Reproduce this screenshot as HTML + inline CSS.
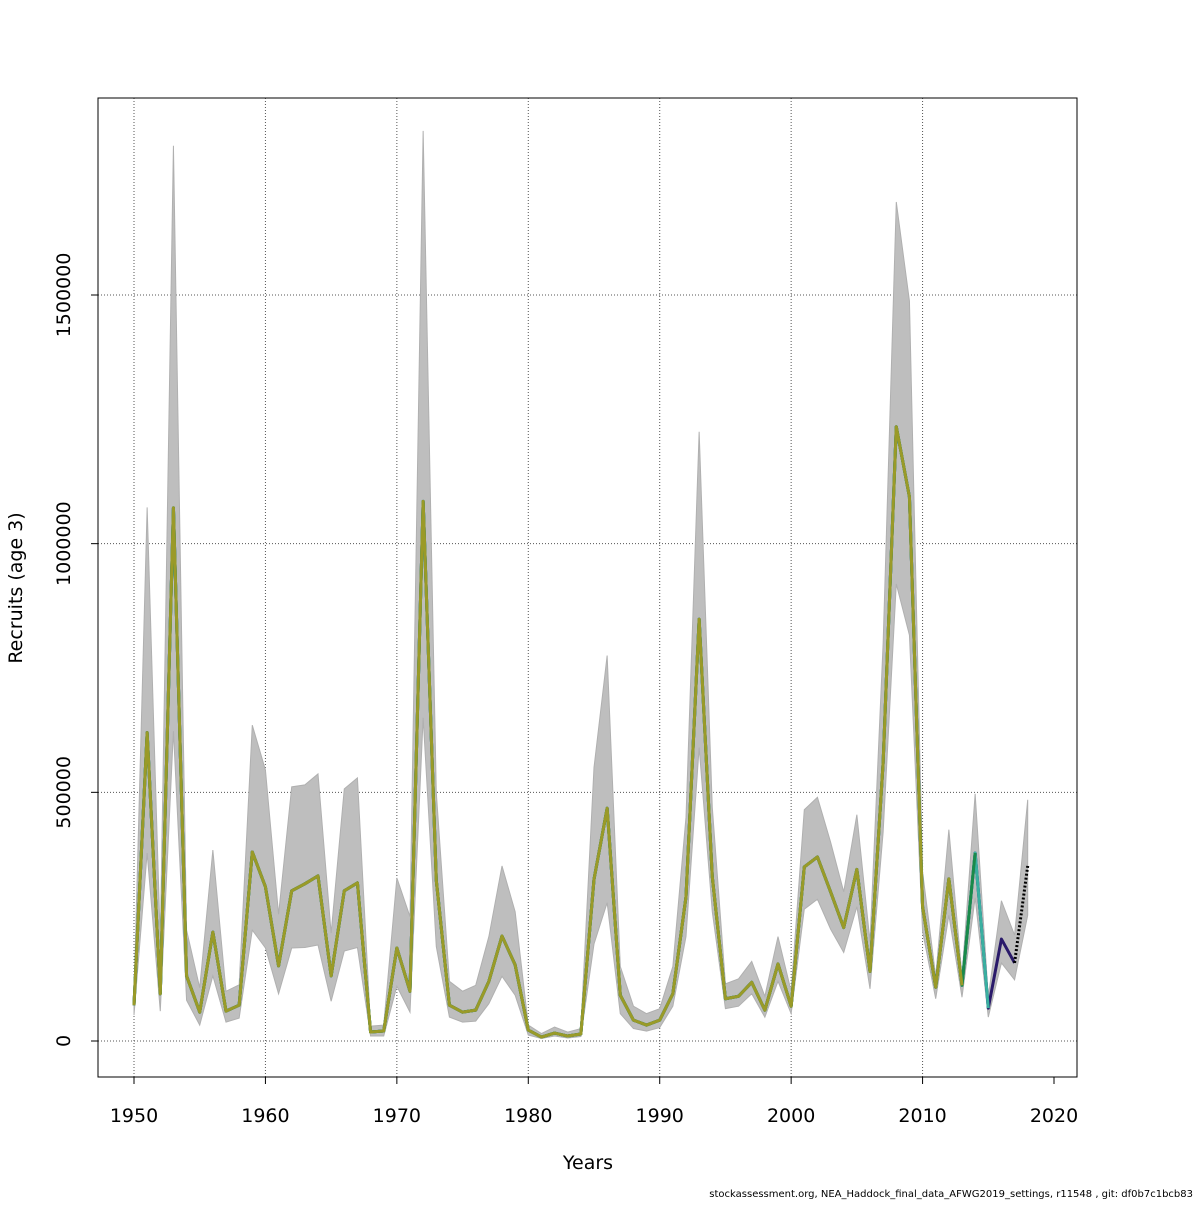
<!DOCTYPE html>
<html><head><meta charset="utf-8"><style>
body{margin:0;background:#fff;}
svg text{font-family:"DejaVu Sans","Liberation Sans",sans-serif;}
</style></head><body>
<svg id="chart" width="1200" height="1200" viewBox="0 0 1200 1200" xmlns="http://www.w3.org/2000/svg">
<rect width="1200" height="1200" fill="#fff"/>
<g id="grid"></g>
<g id="band"></g>
<g id="lines"></g>
<g id="axes"></g>
<text x="588" y="1169" font-size="19" text-anchor="middle">Years</text>
<text transform="translate(22,588) rotate(-90)" font-size="19" text-anchor="middle">Recruits (age 3)</text>
<text x="1193" y="1197" font-size="10" text-anchor="end">stockassessment.org, NEA_Haddock_final_data_AFWG2019_settings, r11548 , git: df0b7c1bcb83</text>
</svg>
<script>
const years = [];
for (let y = 1950; y <= 2018; y++) years.push(y);
const recruits = [72,620,95,1072,131,58,219,60,72,380,310,151,302,316,332,131,302,318,18,20,187,100,1085,323,72,58,62,120,211,153,22,8,16,10,14,325,468,92,42,32,42,95,290,848,330,85,90,118,62,155,70,350,370,300,228,345,140,560,1235,1094,270,108,326,112,378,66,205,157,352];
const upper = [92,1073,200,1800,223,107,384,100,113,635,545,255,511,515,537,217,507,529,30,32,328,250,1830,500,120,100,112,210,352,260,32,15,28,18,25,550,775,150,70,55,65,150,450,1225,470,115,125,160,90,210,100,465,490,400,300,455,200,800,1687,1488,340,130,425,131,497,88,282,213,485];
const lower = [52,378,60,623,82,32,131,38,46,223,187,95,187,188,193,80,181,188,10,10,110,58,650,190,48,38,40,75,130,92,12,5,10,6,9,195,278,55,25,20,27,70,210,590,260,65,70,95,48,120,55,265,285,225,178,270,105,420,919,816,220,85,253,88,288,48,157,123,253];
const xTicks = [1950,1960,1970,1980,1990,2000,2010,2020];
const yTicks = [0,500000,1000000,1500000];
const yTickLabels = ["0","500000","1000000","1500000"];

const NS = "http://www.w3.org/2000/svg";
const X = yr => 134 + (yr - 1950) * (920 / 70);
const Y = v => 1041 - v * (248.67 / 500000);
function mk(tag, attrs, parent) {
  const e = document.createElementNS(NS, tag);
  for (const k in attrs) e.setAttribute(k, attrs[k]);
  parent.appendChild(e);
  return e;
}
const grid = document.getElementById('grid');
xTicks.slice(0, 7).forEach(t => {
  const l = mk('line', {x1: X(t), x2: X(t), y1: 98, y2: 1077, stroke: '#555', 'stroke-width': 1, 'stroke-dasharray': '1,2'}, grid);
  
  
});
yTicks.forEach(t => {
  const l = mk('line', {x1: 98, x2: 1077, y1: Y(t), y2: Y(t), stroke: '#555', 'stroke-width': 1, 'stroke-dasharray': '1,2'}, grid);
  
  
});
// band
let pts = [];
years.forEach((yr, i) => pts.push(X(yr) + ',' + Y(upper[i] * 1000)));
for (let i = years.length - 1; i >= 0; i--) pts.push(X(years[i]) + ',' + Y(lower[i] * 1000));
const band = mk('polygon', {points: pts.join(' '), fill: '#bebebe', stroke: '#b0b0b0', 'stroke-width': 1}, document.getElementById('band'));


// lines
const lines = document.getElementById('lines');
function series(endYear, color, width, name, dash, startYear) {
  const p = [];
  years.forEach((yr, i) => { if (yr <= endYear && yr >= (startYear || 1950)) p.push(X(yr) + ',' + Y(recruits[i] * 1000)); });
  const a = {points: p.join(' '), fill: 'none', stroke: color, 'stroke-width': width, 'stroke-linejoin': 'round'};
  if (dash) a['stroke-dasharray'] = dash;
  const e = mk('polyline', a, lines);
  
  
}
series(2015, '#66a3e0', 3, 'retro-line-2015');
series(2017, '#2a1a6a', 3, 'retro-line-2017');
series(2015, '#3ab0a0', 3, 'retro-line-2015b');
series(2014, '#1a8a4a', 3, 'retro-line-2014');
series(2013, '#9a9a28', 3, 'retro-line-2013');
series(2018, '#000', 3, 'final-year-dotted', '2,2', 2017);
// axes
const axes = document.getElementById('axes');
const box = mk('rect', {x: 98, y: 98, width: 979, height: 979, fill: 'none', stroke: '#000', 'stroke-width': 1}, axes);


xTicks.forEach(t => {
  mk('line', {x1: X(t), x2: X(t), y1: 1077, y2: 1084, stroke: '#000'}, axes);
  const tx = mk('text', {x: X(t), y: 1122, 'font-size': 19, 'text-anchor': 'middle'}, axes);
  tx.textContent = t;
  
  
});
yTicks.forEach((t, i) => {
  mk('line', {x1: 91, x2: 98, y1: Y(t), y2: Y(t), stroke: '#000'}, axes);
  const tx = mk('text', {transform: `translate(70,${Y(t)}) rotate(-90)`, 'font-size': 19, 'text-anchor': 'middle'}, axes);
  tx.textContent = yTickLabels[i];
  
  
});
</script>
</body></html>
